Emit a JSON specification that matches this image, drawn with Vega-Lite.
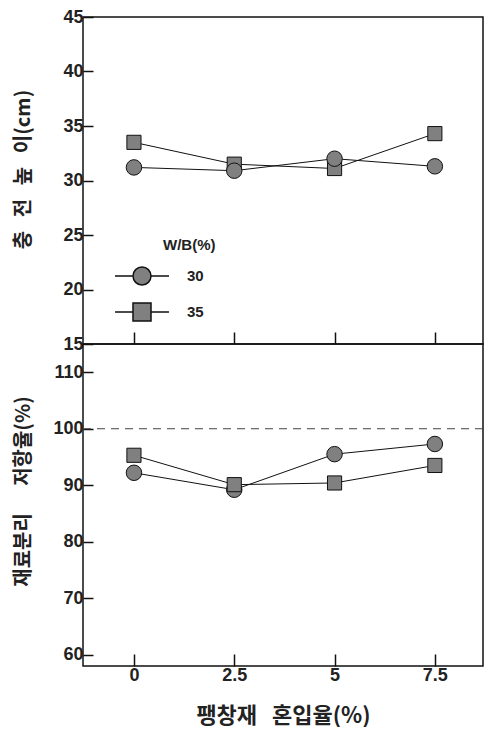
{
  "$schema": "https://vega.github.io/schema/vega-lite/v6.json",
  "padding": {"left": 12, "top": 7, "right": 0, "bottom": 0},
  "background": "white",
  "spacing": 0,
  "bounds": "flush",
  "config": {
    "view": {"stroke": "#111", "strokeWidth": 1.5},
    "axis": {
      "domain": false,
      "grid": false,
      "tickColor": "#111",
      "tickWidth": 1.5,
      "labelFont": "Liberation Sans",
      "labelFontWeight": "bold",
      "labelFontSize": 18,
      "labelColor": "#222",
      "titleFont": "Noto Sans CJK KR",
      "titleFontWeight": "bold",
      "titleColor": "#222"
    }
  },
  "datasets": {
    "fill": [
      {"x": 0, "y": 31.2, "WB": "30"},
      {"x": 2.5, "y": 30.9, "WB": "30"},
      {"x": 5, "y": 32.0, "WB": "30"},
      {"x": 7.5, "y": 31.3, "WB": "30"},
      {"x": 0, "y": 33.5, "WB": "35"},
      {"x": 2.5, "y": 31.5, "WB": "35"},
      {"x": 5, "y": 31.1, "WB": "35"},
      {"x": 7.5, "y": 34.3, "WB": "35"}
    ],
    "resist": [
      {"x": 0, "y": 92.2, "WB": "30"},
      {"x": 2.5, "y": 89.2, "WB": "30"},
      {"x": 5, "y": 95.5, "WB": "30"},
      {"x": 7.5, "y": 97.3, "WB": "30"},
      {"x": 0, "y": 95.3, "WB": "35"},
      {"x": 2.5, "y": 90.1, "WB": "35"},
      {"x": 5, "y": 90.4, "WB": "35"},
      {"x": 7.5, "y": 93.5, "WB": "35"}
    ],
    "ref": [{"r": 100}]
  },
  "vconcat": [
    {
      "width": 400,
      "height": 327,
      "data": {"name": "fill"},
      "encoding": {
        "x": {
          "field": "x", "type": "quantitative",
          "scale": {"domain": [-1.27, 8.7], "nice": false, "zero": false},
          "axis": {"values": [0, 2.5, 5, 7.5], "labels": false, "title": null, "tickSize": -12, "minExtent": 0, "maxExtent": 0}
        },
        "y": {
          "field": "y", "type": "quantitative",
          "scale": {"domain": [15, 45], "nice": false, "zero": false},
          "axis": {
            "values": [15, 20, 25, 30, 35, 40, 45],
            "tickSize": -10,
            "labelPadding": 10,
            "title": "충\u00a0\u00a0\u00a0전\u00a0\u00a0\u00a0높\u00a0\u00a0\u00a0이(cm)",
            "titleFontSize": 20,
            "titleX": -60,
            "titleY": 152,
            "titleBaseline": "middle"
          }
        }
      },
      "layer": [
        {
          "mark": {"type": "line", "color": "#111", "strokeWidth": 1},
          "encoding": {"detail": {"field": "WB"}}
        },
        {
          "transform": [{"filter": "datum.WB == '35'"}],
          "mark": {"type": "point", "shape": "square", "filled": true, "fill": "#808080", "stroke": "#111", "strokeWidth": 1, "size": 200, "opacity": 1}
        },
        {
          "transform": [{"filter": "datum.WB == '30'"}],
          "mark": {"type": "point", "shape": "circle", "filled": true, "fill": "#808080", "stroke": "#111", "strokeWidth": 1, "size": 240, "opacity": 1}
        },
        {
          "mark": {"type": "point", "filled": true, "fill": "#808080", "stroke": "#111", "strokeWidth": 1, "opacity": 0},
          "encoding": {
            "shape": {
              "field": "WB", "type": "nominal",
              "scale": {"domain": ["30", "35"], "range": ["M-1,0A1,1 0 1,1 1,0A1,1 0 1,1 -1,0Z M-3,0H-1M1,0H3", "M-1,-1H1V1H-1Z M-3,0H-1M1,0H3"]},
              "legend": {
                "title": "W/B(%)",
                "orient": "none",
                "legendX": 80,
                "legendY": 221,
                "direction": "vertical",
                "symbolSize": 324,
                "symbolOffset": -31,
                "labelOffset": 35,
                "rowPadding": 12,
                "titlePadding": 13,
                "titleFont": "Liberation Sans",
                "titleFontWeight": "bold",
                "titleFontSize": 15,
                "titleColor": "#222",
                "labelFont": "Liberation Sans",
                "labelFontWeight": "bold",
                "labelFontSize": 15,
                "labelColor": "#222",
                "encode": {
                  "symbols": {
                    "update": {
                      "fill": {"value": "#808080"},
                      "stroke": {"value": "#111"},
                      "strokeWidth": {"value": 1},
                      "opacity": {"value": 1},
                      "fillOpacity": {"value": 1},
                      "strokeOpacity": {"value": 1}
                    }
                  }
                }
              }
            }
          }
        }
      ]
    },
    {
      "width": 400,
      "height": 322,
      "encoding": {
        "x": {
          "field": "x", "type": "quantitative",
          "scale": {"domain": [-1.27, 8.7], "nice": false, "zero": false},
          "axis": {
            "values": [0, 2.5, 5, 7.5], "format": ".2~g", "tickSize": -12, "labelPadding": 12,
            "title": "팽창재\u00a0\u00a0\u00a0혼입율(%)", "titleFontSize": 22, "titlePadding": 21
          }
        },
        "y": {
          "field": "y", "type": "quantitative",
          "scale": {"domain": [58, 115], "nice": false, "zero": false},
          "axis": {
            "values": [60, 70, 80, 90, 100, 110],
            "tickSize": -10,
            "labelPadding": 10,
            "title": "재료분리\u00a0\u00a0\u00a0\u00a0\u00a0\u00a0저항율(%)",
            "titleFontSize": 20,
            "titleX": -60,
            "titleY": 147,
            "titleBaseline": "middle"
          }
        }
      },
      "layer": [
        {
          "data": {"name": "ref"},
          "mark": {"type": "rule", "color": "#444", "strokeWidth": 1, "strokeDash": [8, 6]},
          "encoding": {"y": {"field": "r", "type": "quantitative"}, "x": null}
        },
        {
          "data": {"name": "resist"},
          "mark": {"type": "line", "color": "#111", "strokeWidth": 1},
          "encoding": {"detail": {"field": "WB"}}
        },
        {
          "data": {"name": "resist"},
          "transform": [{"filter": "datum.WB == '30'"}],
          "mark": {"type": "point", "shape": "circle", "filled": true, "fill": "#808080", "stroke": "#111", "strokeWidth": 1, "size": 240, "opacity": 1}
        },
        {
          "data": {"name": "resist"},
          "transform": [{"filter": "datum.WB == '35'"}],
          "mark": {"type": "point", "shape": "square", "filled": true, "fill": "#808080", "stroke": "#111", "strokeWidth": 1, "size": 200, "opacity": 1}
        }
      ]
    }
  ]
}
